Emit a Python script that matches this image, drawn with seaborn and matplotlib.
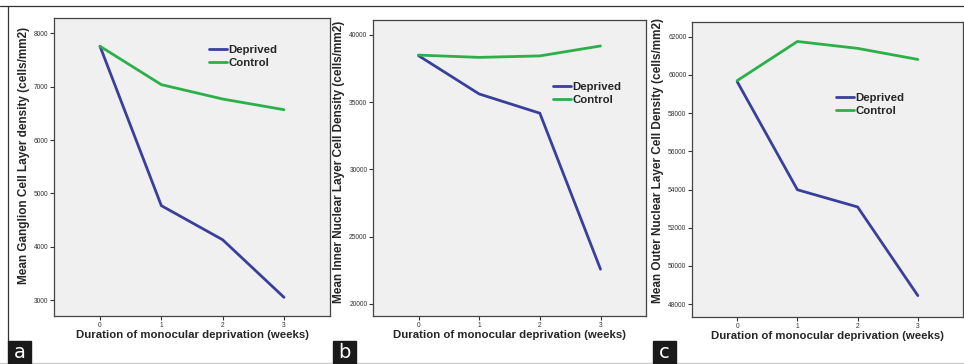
import matplotlib
matplotlib.use("Agg")
import matplotlib.pyplot as plt
import pandas as pd
import seaborn as sns
from matplotlib.lines import Line2D
from matplotlib.patches import Rectangle

weeks = [0, 1, 2, 3]
series_names = ["Deprived", "Control"]

gcl_deprived = [7760, 4770, 4130, 3050]
gcl_control = [7760, 7040, 6770, 6570]

inl_deprived = [38460, 35610, 34180, 22580]
inl_control = [38500, 38330, 38440, 39180]

onl_deprived = [59650, 53990, 53090, 48450]
onl_control = [59700, 61750, 61390, 60810]

gcl_ticks = [3000, 4000, 5000, 6000, 7000, 8000]
inl_ticks = [20000, 25000, 30000, 35000, 40000]
onl_ticks = [48000, 50000, 52000, 54000, 56000, 58000, 60000, 62000]

ylabels = ["Mean Ganglion Cell Layer density (cells/mm2)",
           "Mean Inner Nuclear Layer Cell Density (cells/mm2)",
           "Mean Outer Nuclear Layer Cell Density (cells/mm2)"]
xlabel = "Duration of monocular deprivation (weeks)"
panel_letters = ["a", "b", "c"]

sns.set_theme(style="white")
plt.rcParams['font.family'] = ['Liberation Sans', 'DejaVu Sans']

palette = {"Deprived": "#3b3f9c", "Control": "#2bb04a"}
W, H = 964, 364
fig = plt.figure(figsize=(W / 100, H / 100), dpi=100)


def long_df(dep, ctl):
    return pd.DataFrame({
        "week": weeks * 2,
        "value": dep + ctl,
        "group": ["Deprived"] * 4 + ["Control"] * 4,
    })


panels = [
    (long_df(gcl_deprived, gcl_control), gcl_ticks, (2700, 8290), (54, 18, 330, 316), (213, 54), 0.54),
    (long_df(inl_deprived, inl_control), inl_ticks, (19100, 41110), (373, 20, 646, 316), (557, 91), 0.52),
    (long_df(onl_deprived, onl_control), onl_ticks, (47330, 62770), (692, 22, 963, 317), (840, 102), 0.53),
]

for i, (df, yt, ylim, box, leg, ylab_y) in enumerate(panels):
    x0, y0, x1, y1 = box
    ax = fig.add_axes([x0 / W, 1 - y1 / H, (x1 - x0) / W, (y1 - y0) / H])
    ax.set_facecolor("#f0f0f0")
    sns.lineplot(data=df, x="week", y="value", hue="group", hue_order=series_names,
                 palette=palette, linewidth=2.0, ax=ax, legend=False)
    ax.set_xlim(-0.75, 3.75)
    ax.set_ylim(*ylim)
    ax.set_xticks(weeks)
    ax.set_xticklabels([str(w) for w in weeks])
    ax.set_yticks(yt)
    ax.set_yticklabels([str(t) for t in yt])
    ax.tick_params(axis="both", which="major", direction="out", length=3, width=0.8,
                   labelsize=4.8, labelcolor="#333333", color="#333333", pad=1,
                   left=True, bottom=True)
    for s in ax.spines.values():
        s.set_color("#444444")
        s.set_linewidth(0.9)
    ax.set_xlabel(xlabel, fontsize=8.2, fontweight="bold", labelpad=1)
    ax.set_ylabel(ylabels[i], fontsize=8.5, fontweight="bold", labelpad=3)
    ax.yaxis.label.set_y(ylab_y)

    # legend drawn like the original (no frame, lines touching text)
    handles = [Line2D([], [], color=palette[n], lw=2.0) for n in series_names]
    lx, ly = leg
    fig.legend(handles, series_names, loc="upper left",
               bbox_to_anchor=((lx - 4) / W, 1 - (ly - 9) / H),
               frameon=False, handlelength=1.6, handletextpad=0.1,
               labelspacing=0.25, borderpad=0, borderaxespad=0,
               prop={"weight": "bold", "size": 8.2})

    # panel letter box
    letter_x = [8, 333, 653][i]
    fig.patches.append(Rectangle((letter_x / W, 1 - 363 / H), 23 / W, 22 / H,
                                 transform=fig.transFigure, color="#1a1a1a", zorder=5))
    fig.text((letter_x + 11.5) / W, 1 - 352 / H, panel_letters[i], color="white",
             fontsize=14, ha="center", va="center", zorder=6,
             family=["DejaVu Sans"])

# outer frame lines
fig.add_artist(Line2D([0, 1], [1 - 6 / H, 1 - 6 / H], color="#333333", lw=0.9,
                      transform=fig.transFigure))
fig.add_artist(Line2D([8 / W, 8 / W], [1 - 6 / H, 1 - 342 / H], color="#333333", lw=0.9,
                      transform=fig.transFigure))
fig.add_artist(Line2D([0, 1], [1 - 362.5 / H, 1 - 362.5 / H], color="#cccccc", lw=1.0,
                      transform=fig.transFigure))

fig.savefig("out.png", dpi=100)
